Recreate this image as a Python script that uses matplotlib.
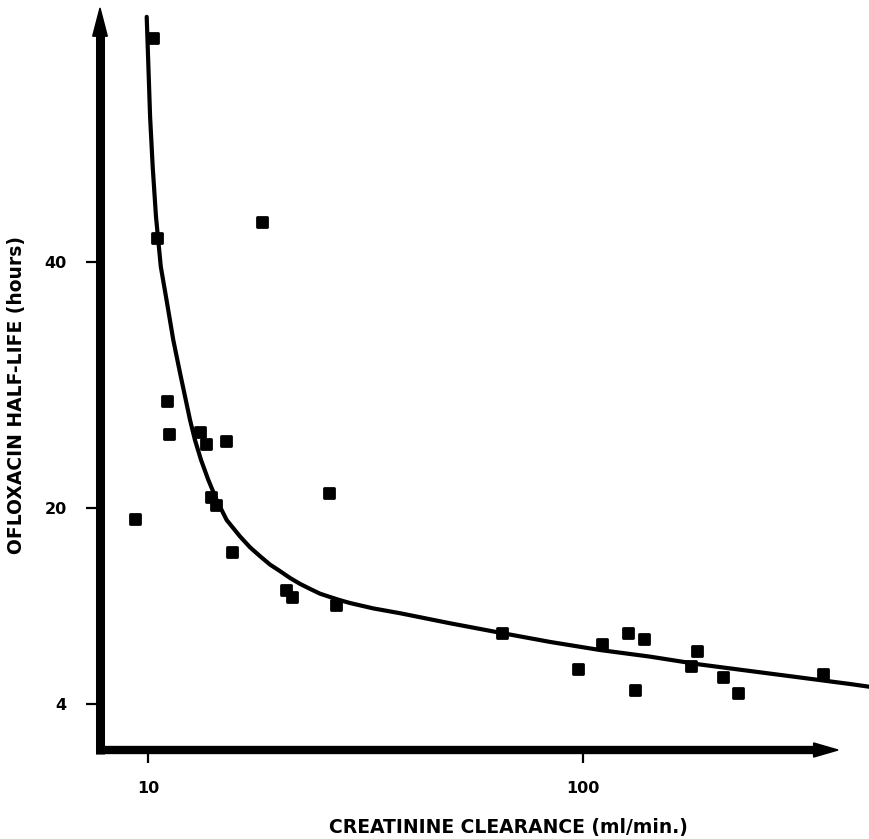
import numpy as np
import matplotlib
matplotlib.use("Agg")
from matplotlib import pyplot as plt
from matplotlib.patches import Polygon
from matplotlib.markers import MarkerStyle

# measured points: creatinine clearance (ml/min) vs half-life (hours)
clearance = [10.27, 10.49, 11.06, 11.2, 9.33, 13.17, 13.6, 15.1, 13.96, 14.3,
             15.6, 18.26, 20.76, 21.4, 26.06, 26.98, 65.2, 97.4, 110.4, 126.6,
             131.4, 138.0, 176.7, 182.7, 209.5, 227.5, 355.5]
half_life = [58.3, 42.0, 28.7, 26.0, 19.1, 26.2, 25.2, 25.4, 20.9, 20.2,
             16.4, 43.3, 13.3, 12.7, 21.2, 12.06, 9.8, 6.85, 8.9, 9.8,
             5.1, 9.3, 7.1, 8.3, 6.2, 4.9, 6.4]

# fitted curve
curve_x = [9.93, 10.02, 10.11, 10.25, 10.43, 10.70, 11.03, 11.43, 11.85, 12.49,
           12.82, 13.24, 13.76, 14.38, 15.16, 16.27, 17.16, 18.09, 19.08, 20.11,
           21.21, 22.36, 23.58, 24.86, 26.21, 27.64, 29.13, 30.72, 32.96, 37.96,
           49.47, 64.45, 83.98, 109.4, 142.6, 185.8, 242.1, 315.5, 411.0, 454.5]
curve_y = [60.0, 55.93, 51.86, 47.78, 43.71, 39.63, 36.92, 33.66, 30.95, 27.14,
           25.51, 23.88, 22.25, 20.62, 18.99, 17.65, 16.76, 16.04, 15.35, 14.82,
           14.26, 13.78, 13.37, 12.98, 12.71, 12.45, 12.22, 12.03, 11.78, 11.39,
           10.57, 9.80, 9.05, 8.39, 7.85, 7.21, 6.68, 6.15, 5.62, 5.40]

xticks = [10, 100]
xtick_labels = ["10", "100"]
yticks = [4, 20, 40]

W, H = 869, 839
fig = plt.figure(figsize=(W / 100, H / 100), dpi=100)
ax = fig.add_axes([100 / W, (H - 750) / H, 769 / W, 742 / H])
ax.set_xscale("log")
ax.set_xlim(7.755, 454.5)
ax.set_ylim(0.24, 60.72)

ax.plot(curve_x, curve_y, color="black", lw=3.0, solid_capstyle="round",
        solid_joinstyle="round", clip_on=False)
mk = MarkerStyle("s", joinstyle="round")
ax.plot(clearance, half_life, linestyle="none", marker=mk, color="black",
        ms=6.5, mew=2.0, mec="black", clip_on=False)

for s in ax.spines.values():
    s.set_visible(False)

# thick axes drawn by hand, with slim arrow heads
ta = ax.transAxes
ax.plot([0, 0], [-0.0054, 0.975], color="black", lw=6.5, transform=ta,
        clip_on=False, solid_capstyle="butt")
ax.plot([-0.0052, 0.935], [0, 0], color="black", lw=6, transform=ta,
        clip_on=False, solid_capstyle="butt")
ax.add_patch(Polygon([[0, 1.0], [-0.0095, 0.962], [0.0095, 0.962]], closed=True,
                     color="black", transform=ta, clip_on=False))
ax.add_patch(Polygon([[0.9597, 0], [0.928, 0.0095], [0.928, -0.0095]], closed=True,
                     color="black", transform=ta, clip_on=False))

ax.set_xticks(xticks)
ax.set_xticklabels(xtick_labels)
ax.xaxis.set_minor_locator(matplotlib.ticker.NullLocator())
ax.set_yticks(yticks)
ax.set_yticklabels([str(v) for v in yticks])
ax.tick_params(axis="x", length=9, width=1.6, pad=13, labelsize=11.5)
ax.tick_params(axis="y", length=10, width=1.6, pad=14, labelsize=11.5)
for lab in ax.get_xticklabels() + ax.get_yticklabels():
    lab.set_fontweight("bold")

fig.text(17 / W, 1 - 395 / H, "OFLOXACIN HALF-LIFE (hours)", rotation=90,
         ha="center", va="center", fontsize=13.5, fontweight="bold")
fig.text(508 / W, 1 - 828 / H, "CREATININE CLEARANCE (ml/min.)",
         ha="center", va="center", fontsize=13.5, fontweight="bold")

plt.savefig("out.png", dpi=100)
